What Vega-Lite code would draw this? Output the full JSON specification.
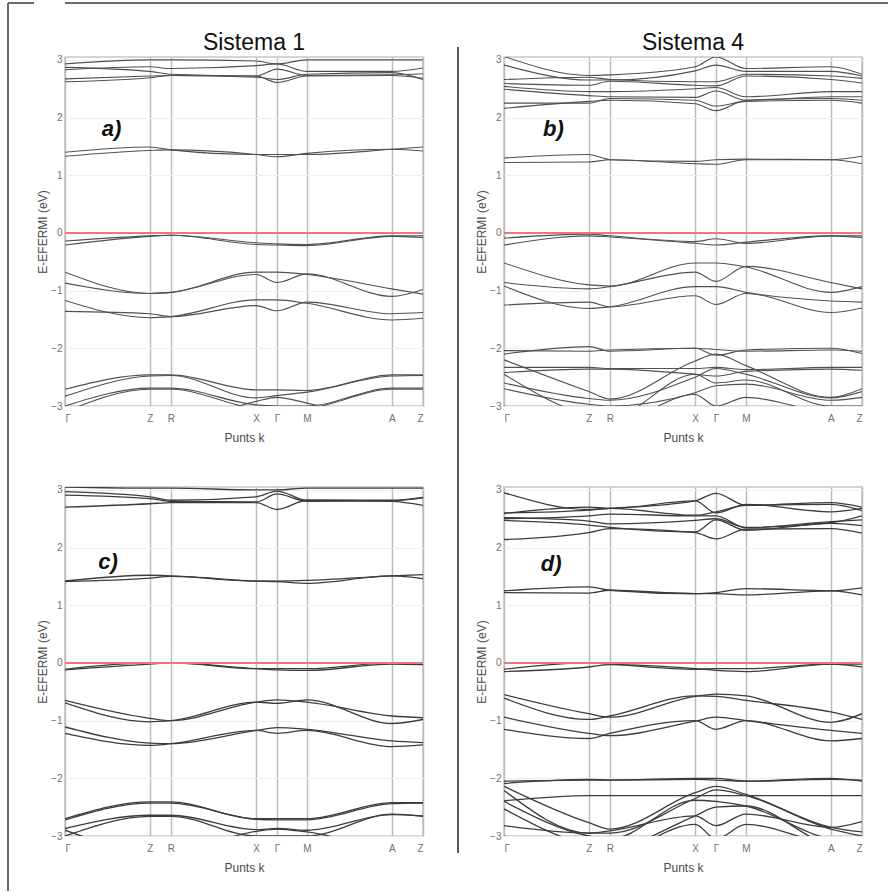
{
"$schema": "https://vega.github.io/schema/vega-lite/v6.json",
"padding": {"left": 7, "top": 2, "right": 0, "bottom": 0},
"background": "white",
"spacing": 0,
"config": {
  "font": "Liberation Sans",
  "view": {"stroke": "#c8c8c8", "strokeWidth": 1.5},
  "axis": {"labelFont": "Liberation Sans", "titleFont": "Liberation Sans", "labelColor": "#707070", "labelFontSize": 10, "titleColor": "#4a4a4a", "titleFontSize": 12, "titleFontWeight": "normal", "ticks": false, "domain": false}
},
"datasets": {
"one": [{}],
"fermi": [{"E": 0}],
"labels": [{"p":"a","t":"a)","k":10.3,"E":1.8},{"p":"b","t":"b)","k":10.9,"E":1.8},{"p":"c","t":"c)","k":9.3,"E":1.75},{"p":"d","t":"d)","k":10.3,"E":1.72}],
"a": [
{"b":1,"k":0,"E":2.93},{"b":1,"k":23.7,"E":3.0},{"b":1,"k":29.6,"E":3.0},{"b":1,"k":53.4,"E":2.98},{"b":1,"k":59.2,"E":2.93},{"b":1,"k":67.6,"E":3.0},{"b":1,"k":91.3,"E":3.0},{"b":1,"k":100,"E":3.0},
{"b":2,"k":0,"E":2.87},{"b":2,"k":23.7,"E":2.8},{"b":2,"k":29.6,"E":2.75},{"b":2,"k":53.4,"E":2.72},{"b":2,"k":59.2,"E":2.84},{"b":2,"k":67.6,"E":2.73},{"b":2,"k":91.3,"E":2.74},{"b":2,"k":100,"E":2.76},
{"b":3,"k":0,"E":2.83},{"b":3,"k":23.7,"E":2.88},{"b":3,"k":29.6,"E":2.85},{"b":3,"k":53.4,"E":2.9},{"b":3,"k":59.2,"E":2.93},{"b":3,"k":67.6,"E":2.8},{"b":3,"k":91.3,"E":2.8},{"b":3,"k":100,"E":2.86},
{"b":4,"k":0,"E":2.67},{"b":4,"k":23.7,"E":2.72},{"b":4,"k":29.6,"E":2.73},{"b":4,"k":53.4,"E":2.72},{"b":4,"k":59.2,"E":2.61},{"b":4,"k":67.6,"E":2.72},{"b":4,"k":91.3,"E":2.73},{"b":4,"k":100,"E":2.68},
{"b":5,"k":0,"E":2.62},{"b":5,"k":23.7,"E":2.69},{"b":5,"k":29.6,"E":2.73},{"b":5,"k":53.4,"E":2.7},{"b":5,"k":59.2,"E":2.66},{"b":5,"k":67.6,"E":2.75},{"b":5,"k":91.3,"E":2.78},{"b":5,"k":100,"E":2.66},
{"b":6,"k":0,"E":1.4},{"b":6,"k":23.7,"E":1.49},{"b":6,"k":29.6,"E":1.44},{"b":6,"k":53.4,"E":1.36},{"b":6,"k":59.2,"E":1.36},{"b":6,"k":67.6,"E":1.36},{"b":6,"k":91.3,"E":1.45},{"b":6,"k":100,"E":1.49},
{"b":7,"k":0,"E":1.33},{"b":7,"k":23.7,"E":1.43},{"b":7,"k":29.6,"E":1.44},{"b":7,"k":53.4,"E":1.36},{"b":7,"k":59.2,"E":1.32},{"b":7,"k":67.6,"E":1.38},{"b":7,"k":91.3,"E":1.45},{"b":7,"k":100,"E":1.42},
{"b":8,"k":0,"E":-0.14},{"b":8,"k":23.7,"E":-0.05},{"b":8,"k":29.6,"E":-0.04},{"b":8,"k":53.4,"E":-0.17},{"b":8,"k":59.2,"E":-0.19},{"b":8,"k":67.6,"E":-0.2},{"b":8,"k":91.3,"E":-0.05},{"b":8,"k":100,"E":-0.05},
{"b":9,"k":0,"E":-0.21},{"b":9,"k":23.7,"E":-0.06},{"b":9,"k":29.6,"E":-0.04},{"b":9,"k":53.4,"E":-0.2},{"b":9,"k":59.2,"E":-0.21},{"b":9,"k":67.6,"E":-0.22},{"b":9,"k":91.3,"E":-0.06},{"b":9,"k":100,"E":-0.08},
{"b":10,"k":0,"E":-0.68},{"b":10,"k":23.7,"E":-1.05},{"b":10,"k":29.6,"E":-1.03},{"b":10,"k":53.4,"E":-0.68},{"b":10,"k":59.2,"E":-0.68},{"b":10,"k":67.6,"E":-0.72},{"b":10,"k":91.3,"E":-0.97},{"b":10,"k":100,"E":-1.06},
{"b":11,"k":0,"E":-0.87},{"b":11,"k":23.7,"E":-1.05},{"b":11,"k":29.6,"E":-1.03},{"b":11,"k":53.4,"E":-0.72},{"b":11,"k":59.2,"E":-0.86},{"b":11,"k":67.6,"E":-0.71},{"b":11,"k":91.3,"E":-1.1},{"b":11,"k":100,"E":-0.98},
{"b":12,"k":0,"E":-1.17},{"b":12,"k":23.7,"E":-1.47},{"b":12,"k":29.6,"E":-1.45},{"b":12,"k":53.4,"E":-1.16},{"b":12,"k":59.2,"E":-1.16},{"b":12,"k":67.6,"E":-1.22},{"b":12,"k":91.3,"E":-1.51},{"b":12,"k":100,"E":-1.48},
{"b":13,"k":0,"E":-1.36},{"b":13,"k":23.7,"E":-1.4},{"b":13,"k":29.6,"E":-1.45},{"b":13,"k":53.4,"E":-1.26},{"b":13,"k":59.2,"E":-1.35},{"b":13,"k":67.6,"E":-1.2},{"b":13,"k":91.3,"E":-1.4},{"b":13,"k":100,"E":-1.38},
{"b":14,"k":0,"E":-2.71},{"b":14,"k":23.7,"E":-2.46},{"b":14,"k":29.6,"E":-2.46},{"b":14,"k":53.4,"E":-2.72},{"b":14,"k":59.2,"E":-2.72},{"b":14,"k":67.6,"E":-2.73},{"b":14,"k":91.3,"E":-2.46},{"b":14,"k":100,"E":-2.46},
{"b":15,"k":0,"E":-2.83},{"b":15,"k":23.7,"E":-2.48},{"b":15,"k":29.6,"E":-2.47},{"b":15,"k":53.4,"E":-2.86},{"b":15,"k":59.2,"E":-2.82},{"b":15,"k":67.6,"E":-2.76},{"b":15,"k":91.3,"E":-2.48},{"b":15,"k":100,"E":-2.47},
{"b":16,"k":0,"E":-3.0},{"b":16,"k":23.7,"E":-2.69},{"b":16,"k":29.6,"E":-2.69},{"b":16,"k":53.4,"E":-2.98},{"b":16,"k":59.2,"E":-3.0},{"b":16,"k":67.6,"E":-3.0},{"b":16,"k":91.3,"E":-2.69},{"b":16,"k":100,"E":-2.69},
{"b":17,"k":0,"E":-3.1},{"b":17,"k":23.7,"E":-2.71},{"b":17,"k":29.6,"E":-2.71},{"b":17,"k":53.4,"E":-3.05},{"b":17,"k":59.2,"E":-3.08},{"b":17,"k":67.6,"E":-3.05},{"b":17,"k":91.3,"E":-2.71},{"b":17,"k":100,"E":-2.71},
{"b":18,"k":0,"E":-3.02},{"b":18,"k":23.7,"E":-3.3},{"b":18,"k":29.6,"E":-3.3},{"b":18,"k":53.4,"E":-2.92},{"b":18,"k":59.2,"E":-2.85},{"b":18,"k":67.6,"E":-2.95},{"b":18,"k":91.3,"E":-3.3},{"b":18,"k":100,"E":-3.3}
],
"b": [
{"b":1,"k":0,"E":3.06},{"b":1,"k":23.7,"E":2.73},{"b":1,"k":29.6,"E":2.74},{"b":1,"k":53.4,"E":2.88},{"b":1,"k":59.2,"E":3.05},{"b":1,"k":67.6,"E":2.85},{"b":1,"k":91.3,"E":2.88},{"b":1,"k":100,"E":2.75},
{"b":2,"k":0,"E":2.91},{"b":2,"k":23.7,"E":2.65},{"b":2,"k":29.6,"E":2.65},{"b":2,"k":53.4,"E":2.81},{"b":2,"k":59.2,"E":2.91},{"b":2,"k":67.6,"E":2.8},{"b":2,"k":91.3,"E":2.8},{"b":2,"k":100,"E":2.72},
{"b":3,"k":0,"E":2.66},{"b":3,"k":23.7,"E":2.7},{"b":3,"k":29.6,"E":2.66},{"b":3,"k":53.4,"E":2.62},{"b":3,"k":59.2,"E":2.62},{"b":3,"k":67.6,"E":2.75},{"b":3,"k":91.3,"E":2.72},{"b":3,"k":100,"E":2.68},
{"b":4,"k":0,"E":2.59},{"b":4,"k":23.7,"E":2.56},{"b":4,"k":29.6,"E":2.63},{"b":4,"k":53.4,"E":2.56},{"b":4,"k":59.2,"E":2.55},{"b":4,"k":67.6,"E":2.72},{"b":4,"k":91.3,"E":2.66},{"b":4,"k":100,"E":2.6},
{"b":5,"k":0,"E":2.54},{"b":5,"k":23.7,"E":2.45},{"b":5,"k":29.6,"E":2.45},{"b":5,"k":53.4,"E":2.5},{"b":5,"k":59.2,"E":2.52},{"b":5,"k":67.6,"E":2.36},{"b":5,"k":91.3,"E":2.45},{"b":5,"k":100,"E":2.45},
{"b":6,"k":0,"E":2.49},{"b":6,"k":23.7,"E":2.38},{"b":6,"k":29.6,"E":2.36},{"b":6,"k":53.4,"E":2.35},{"b":6,"k":59.2,"E":2.46},{"b":6,"k":67.6,"E":2.3},{"b":6,"k":91.3,"E":2.36},{"b":6,"k":100,"E":2.36},
{"b":7,"k":0,"E":2.25},{"b":7,"k":23.7,"E":2.25},{"b":7,"k":29.6,"E":2.33},{"b":7,"k":53.4,"E":2.3},{"b":7,"k":59.2,"E":2.2},{"b":7,"k":67.6,"E":2.28},{"b":7,"k":91.3,"E":2.3},{"b":7,"k":100,"E":2.25},
{"b":8,"k":0,"E":2.16},{"b":8,"k":23.7,"E":2.28},{"b":8,"k":29.6,"E":2.3},{"b":8,"k":53.4,"E":2.24},{"b":8,"k":59.2,"E":2.12},{"b":8,"k":67.6,"E":2.3},{"b":8,"k":91.3,"E":2.33},{"b":8,"k":100,"E":2.3},
{"b":9,"k":0,"E":1.3},{"b":9,"k":23.7,"E":1.36},{"b":9,"k":29.6,"E":1.27},{"b":9,"k":53.4,"E":1.24},{"b":9,"k":59.2,"E":1.27},{"b":9,"k":67.6,"E":1.28},{"b":9,"k":91.3,"E":1.27},{"b":9,"k":100,"E":1.33},
{"b":10,"k":0,"E":1.22},{"b":10,"k":23.7,"E":1.23},{"b":10,"k":29.6,"E":1.27},{"b":10,"k":53.4,"E":1.2},{"b":10,"k":59.2,"E":1.19},{"b":10,"k":67.6,"E":1.27},{"b":10,"k":91.3,"E":1.27},{"b":10,"k":100,"E":1.2},
{"b":11,"k":0,"E":-0.09},{"b":11,"k":23.7,"E":-0.02},{"b":11,"k":29.6,"E":-0.05},{"b":11,"k":53.4,"E":-0.15},{"b":11,"k":59.2,"E":-0.1},{"b":11,"k":67.6,"E":-0.18},{"b":11,"k":91.3,"E":-0.05},{"b":11,"k":100,"E":-0.05},
{"b":12,"k":0,"E":-0.21},{"b":12,"k":23.7,"E":-0.05},{"b":12,"k":29.6,"E":-0.07},{"b":12,"k":53.4,"E":-0.18},{"b":12,"k":59.2,"E":-0.21},{"b":12,"k":67.6,"E":-0.16},{"b":12,"k":91.3,"E":-0.05},{"b":12,"k":100,"E":-0.08},
{"b":13,"k":0,"E":-0.52},{"b":13,"k":23.7,"E":-0.9},{"b":13,"k":29.6,"E":-0.92},{"b":13,"k":53.4,"E":-0.52},{"b":13,"k":59.2,"E":-0.52},{"b":13,"k":67.6,"E":-0.59},{"b":13,"k":91.3,"E":-1.03},{"b":13,"k":100,"E":-0.93},
{"b":14,"k":0,"E":-0.86},{"b":14,"k":23.7,"E":-0.97},{"b":14,"k":29.6,"E":-0.93},{"b":14,"k":53.4,"E":-0.68},{"b":14,"k":59.2,"E":-0.84},{"b":14,"k":67.6,"E":-0.58},{"b":14,"k":91.3,"E":-0.86},{"b":14,"k":100,"E":-0.97},
{"b":15,"k":0,"E":-0.92},{"b":15,"k":23.7,"E":-1.31},{"b":15,"k":29.6,"E":-1.28},{"b":15,"k":53.4,"E":-0.93},{"b":15,"k":59.2,"E":-0.93},{"b":15,"k":67.6,"E":-1.03},{"b":15,"k":91.3,"E":-1.18},{"b":15,"k":100,"E":-1.2},
{"b":16,"k":0,"E":-1.25},{"b":16,"k":23.7,"E":-1.2},{"b":16,"k":29.6,"E":-1.28},{"b":16,"k":53.4,"E":-1.09},{"b":16,"k":59.2,"E":-1.24},{"b":16,"k":67.6,"E":-1.05},{"b":16,"k":91.3,"E":-1.38},{"b":16,"k":100,"E":-1.3},
{"b":17,"k":0,"E":-2.04},{"b":17,"k":23.7,"E":-2.05},{"b":17,"k":29.6,"E":-2.03},{"b":17,"k":53.4,"E":-2.0},{"b":17,"k":59.2,"E":-2.02},{"b":17,"k":67.6,"E":-2.05},{"b":17,"k":91.3,"E":-2.03},{"b":17,"k":100,"E":-2.05},
{"b":18,"k":0,"E":-2.1},{"b":18,"k":23.7,"E":-1.97},{"b":18,"k":29.6,"E":-2.05},{"b":18,"k":53.4,"E":-2.0},{"b":18,"k":59.2,"E":-2.12},{"b":18,"k":67.6,"E":-2.03},{"b":18,"k":91.3,"E":-2.0},{"b":18,"k":100,"E":-2.09},
{"b":19,"k":0,"E":-2.33},{"b":19,"k":23.7,"E":-2.33},{"b":19,"k":29.6,"E":-2.35},{"b":19,"k":53.4,"E":-2.35},{"b":19,"k":59.2,"E":-2.33},{"b":19,"k":67.6,"E":-2.37},{"b":19,"k":91.3,"E":-2.33},{"b":19,"k":100,"E":-2.33},
{"b":20,"k":0,"E":-2.42},{"b":20,"k":23.7,"E":-2.36},{"b":20,"k":29.6,"E":-2.36},{"b":20,"k":53.4,"E":-2.45},{"b":20,"k":59.2,"E":-2.48},{"b":20,"k":67.6,"E":-2.4},{"b":20,"k":91.3,"E":-2.36},{"b":20,"k":100,"E":-2.38},
{"b":21,"k":0,"E":-2.2},{"b":21,"k":23.7,"E":-2.75},{"b":21,"k":29.6,"E":-2.88},{"b":21,"k":53.4,"E":-2.22},{"b":21,"k":59.2,"E":-2.1},{"b":21,"k":67.6,"E":-2.3},{"b":21,"k":91.3,"E":-2.85},{"b":21,"k":100,"E":-2.7},
{"b":22,"k":0,"E":-2.6},{"b":22,"k":23.7,"E":-2.87},{"b":22,"k":29.6,"E":-2.9},{"b":22,"k":53.4,"E":-2.5},{"b":22,"k":59.2,"E":-2.35},{"b":22,"k":67.6,"E":-2.45},{"b":22,"k":91.3,"E":-2.86},{"b":22,"k":100,"E":-2.75},
{"b":23,"k":0,"E":-2.7},{"b":23,"k":23.7,"E":-2.97},{"b":23,"k":29.6,"E":-3.0},{"b":23,"k":53.4,"E":-2.77},{"b":23,"k":59.2,"E":-2.65},{"b":23,"k":67.6,"E":-2.62},{"b":23,"k":91.3,"E":-2.9},{"b":23,"k":100,"E":-2.85},
{"b":24,"k":0,"E":-2.45},{"b":24,"k":23.7,"E":-3.15},{"b":24,"k":29.6,"E":-3.2},{"b":24,"k":53.4,"E":-2.45},{"b":24,"k":59.2,"E":-2.6},{"b":24,"k":67.6,"E":-2.55},{"b":24,"k":91.3,"E":-3.0},{"b":24,"k":100,"E":-3.0},
{"b":25,"k":0,"E":-3.0},{"b":25,"k":23.7,"E":-3.3},{"b":25,"k":29.6,"E":-3.3},{"b":25,"k":53.4,"E":-2.8},{"b":25,"k":59.2,"E":-3.0},{"b":25,"k":67.6,"E":-2.85},{"b":25,"k":91.3,"E":-3.1},{"b":25,"k":100,"E":-3.05}
],
"c": [
{"b":1,"k":0,"E":3.05},{"b":1,"k":23.7,"E":3.03},{"b":1,"k":29.6,"E":3.03},{"b":1,"k":53.4,"E":3.0},{"b":1,"k":59.2,"E":3.0},{"b":1,"k":67.6,"E":3.03},{"b":1,"k":91.3,"E":3.03},{"b":1,"k":100,"E":3.03},
{"b":2,"k":0,"E":2.97},{"b":2,"k":23.7,"E":2.88},{"b":2,"k":29.6,"E":2.82},{"b":2,"k":53.4,"E":2.88},{"b":2,"k":59.2,"E":2.98},{"b":2,"k":67.6,"E":2.82},{"b":2,"k":91.3,"E":2.82},{"b":2,"k":100,"E":2.87},
{"b":3,"k":0,"E":2.91},{"b":3,"k":23.7,"E":2.85},{"b":3,"k":29.6,"E":2.8},{"b":3,"k":53.4,"E":2.79},{"b":3,"k":59.2,"E":2.93},{"b":3,"k":67.6,"E":2.8},{"b":3,"k":91.3,"E":2.81},{"b":3,"k":100,"E":2.86},
{"b":4,"k":0,"E":2.7},{"b":4,"k":23.7,"E":2.76},{"b":4,"k":29.6,"E":2.78},{"b":4,"k":53.4,"E":2.78},{"b":4,"k":59.2,"E":2.66},{"b":4,"k":67.6,"E":2.82},{"b":4,"k":91.3,"E":2.8},{"b":4,"k":100,"E":2.73},
{"b":5,"k":0,"E":1.42},{"b":5,"k":23.7,"E":1.52},{"b":5,"k":29.6,"E":1.51},{"b":5,"k":53.4,"E":1.42},{"b":5,"k":59.2,"E":1.42},{"b":5,"k":67.6,"E":1.43},{"b":5,"k":91.3,"E":1.51},{"b":5,"k":100,"E":1.53},
{"b":6,"k":0,"E":1.41},{"b":6,"k":23.7,"E":1.47},{"b":6,"k":29.6,"E":1.5},{"b":6,"k":53.4,"E":1.42},{"b":6,"k":59.2,"E":1.41},{"b":6,"k":67.6,"E":1.38},{"b":6,"k":91.3,"E":1.51},{"b":6,"k":100,"E":1.46},
{"b":7,"k":0,"E":-0.11},{"b":7,"k":23.7,"E":0.0},{"b":7,"k":29.6,"E":0.0},{"b":7,"k":53.4,"E":-0.1},{"b":7,"k":59.2,"E":-0.1},{"b":7,"k":67.6,"E":-0.1},{"b":7,"k":91.3,"E":0.0},{"b":7,"k":100,"E":0.0},
{"b":8,"k":0,"E":-0.12},{"b":8,"k":23.7,"E":-0.02},{"b":8,"k":29.6,"E":0.0},{"b":8,"k":53.4,"E":-0.1},{"b":8,"k":59.2,"E":-0.12},{"b":8,"k":67.6,"E":-0.13},{"b":8,"k":91.3,"E":-0.02},{"b":8,"k":100,"E":-0.03},
{"b":9,"k":0,"E":-0.65},{"b":9,"k":23.7,"E":-0.96},{"b":9,"k":29.6,"E":-1.0},{"b":9,"k":53.4,"E":-0.68},{"b":9,"k":59.2,"E":-0.64},{"b":9,"k":67.6,"E":-0.68},{"b":9,"k":91.3,"E":-0.92},{"b":9,"k":100,"E":-0.95},
{"b":10,"k":0,"E":-0.69},{"b":10,"k":23.7,"E":-1.02},{"b":10,"k":29.6,"E":-1.0},{"b":10,"k":53.4,"E":-0.68},{"b":10,"k":59.2,"E":-0.7},{"b":10,"k":67.6,"E":-0.64},{"b":10,"k":91.3,"E":-1.05},{"b":10,"k":100,"E":-0.98},
{"b":11,"k":0,"E":-1.11},{"b":11,"k":23.7,"E":-1.39},{"b":11,"k":29.6,"E":-1.4},{"b":11,"k":53.4,"E":-1.17},{"b":11,"k":59.2,"E":-1.12},{"b":11,"k":67.6,"E":-1.15},{"b":11,"k":91.3,"E":-1.35},{"b":11,"k":100,"E":-1.38},
{"b":12,"k":0,"E":-1.22},{"b":12,"k":23.7,"E":-1.43},{"b":12,"k":29.6,"E":-1.4},{"b":12,"k":53.4,"E":-1.17},{"b":12,"k":59.2,"E":-1.22},{"b":12,"k":67.6,"E":-1.17},{"b":12,"k":91.3,"E":-1.45},{"b":12,"k":100,"E":-1.42},
{"b":13,"k":0,"E":-2.7},{"b":13,"k":23.7,"E":-2.41},{"b":13,"k":29.6,"E":-2.41},{"b":13,"k":53.4,"E":-2.7},{"b":13,"k":59.2,"E":-2.7},{"b":13,"k":67.6,"E":-2.7},{"b":13,"k":91.3,"E":-2.42},{"b":13,"k":100,"E":-2.42},
{"b":14,"k":0,"E":-2.72},{"b":14,"k":23.7,"E":-2.43},{"b":14,"k":29.6,"E":-2.43},{"b":14,"k":53.4,"E":-2.71},{"b":14,"k":59.2,"E":-2.72},{"b":14,"k":67.6,"E":-2.72},{"b":14,"k":91.3,"E":-2.44},{"b":14,"k":100,"E":-2.43},
{"b":15,"k":0,"E":-2.87},{"b":15,"k":23.7,"E":-2.64},{"b":15,"k":29.6,"E":-2.64},{"b":15,"k":53.4,"E":-2.89},{"b":15,"k":59.2,"E":-2.87},{"b":15,"k":67.6,"E":-2.9},{"b":15,"k":91.3,"E":-2.63},{"b":15,"k":100,"E":-2.65},
{"b":16,"k":0,"E":-3.0},{"b":16,"k":23.7,"E":-2.66},{"b":16,"k":29.6,"E":-2.66},{"b":16,"k":53.4,"E":-3.0},{"b":16,"k":59.2,"E":-3.0},{"b":16,"k":67.6,"E":-3.0},{"b":16,"k":91.3,"E":-2.62},{"b":16,"k":100,"E":-2.66},
{"b":17,"k":0,"E":-2.9},{"b":17,"k":23.7,"E":-3.25},{"b":17,"k":29.6,"E":-3.25},{"b":17,"k":53.4,"E":-2.92},{"b":17,"k":59.2,"E":-2.88},{"b":17,"k":67.6,"E":-2.93},{"b":17,"k":91.3,"E":-3.2},{"b":17,"k":100,"E":-3.2}
],
"d": [
{"b":1,"k":0,"E":2.95},{"b":1,"k":23.7,"E":2.66},{"b":1,"k":29.6,"E":2.68},{"b":1,"k":53.4,"E":2.81},{"b":1,"k":59.2,"E":2.94},{"b":1,"k":67.6,"E":2.73},{"b":1,"k":91.3,"E":2.78},{"b":1,"k":100,"E":2.7},
{"b":2,"k":0,"E":2.59},{"b":2,"k":23.7,"E":2.7},{"b":2,"k":29.6,"E":2.68},{"b":2,"k":53.4,"E":2.81},{"b":2,"k":59.2,"E":2.6},{"b":2,"k":67.6,"E":2.75},{"b":2,"k":91.3,"E":2.62},{"b":2,"k":100,"E":2.68},
{"b":3,"k":0,"E":2.6},{"b":3,"k":23.7,"E":2.65},{"b":3,"k":29.6,"E":2.68},{"b":3,"k":53.4,"E":2.56},{"b":3,"k":59.2,"E":2.62},{"b":3,"k":67.6,"E":2.73},{"b":3,"k":91.3,"E":2.75},{"b":3,"k":100,"E":2.64},
{"b":4,"k":0,"E":2.52},{"b":4,"k":23.7,"E":2.46},{"b":4,"k":29.6,"E":2.41},{"b":4,"k":53.4,"E":2.47},{"b":4,"k":59.2,"E":2.5},{"b":4,"k":67.6,"E":2.35},{"b":4,"k":91.3,"E":2.43},{"b":4,"k":100,"E":2.55},
{"b":5,"k":0,"E":2.5},{"b":5,"k":23.7,"E":2.55},{"b":5,"k":29.6,"E":2.58},{"b":5,"k":53.4,"E":2.55},{"b":5,"k":59.2,"E":2.55},{"b":5,"k":67.6,"E":2.34},{"b":5,"k":91.3,"E":2.45},{"b":5,"k":100,"E":2.48},
{"b":6,"k":0,"E":2.47},{"b":6,"k":23.7,"E":2.39},{"b":6,"k":29.6,"E":2.35},{"b":6,"k":53.4,"E":2.27},{"b":6,"k":59.2,"E":2.48},{"b":6,"k":67.6,"E":2.3},{"b":6,"k":91.3,"E":2.42},{"b":6,"k":100,"E":2.38},
{"b":7,"k":0,"E":2.14},{"b":7,"k":23.7,"E":2.26},{"b":7,"k":29.6,"E":2.33},{"b":7,"k":53.4,"E":2.26},{"b":7,"k":59.2,"E":2.15},{"b":7,"k":67.6,"E":2.32},{"b":7,"k":91.3,"E":2.33},{"b":7,"k":100,"E":2.25},
{"b":8,"k":0,"E":1.25},{"b":8,"k":23.7,"E":1.32},{"b":8,"k":29.6,"E":1.26},{"b":8,"k":53.4,"E":1.2},{"b":8,"k":59.2,"E":1.22},{"b":8,"k":67.6,"E":1.29},{"b":8,"k":91.3,"E":1.25},{"b":8,"k":100,"E":1.3},
{"b":9,"k":0,"E":1.22},{"b":9,"k":23.7,"E":1.21},{"b":9,"k":29.6,"E":1.26},{"b":9,"k":53.4,"E":1.2},{"b":9,"k":59.2,"E":1.2},{"b":9,"k":67.6,"E":1.18},{"b":9,"k":91.3,"E":1.25},{"b":9,"k":100,"E":1.18},
{"b":10,"k":0,"E":-0.11},{"b":10,"k":23.7,"E":0.0},{"b":10,"k":29.6,"E":-0.02},{"b":10,"k":53.4,"E":-0.11},{"b":10,"k":59.2,"E":-0.1},{"b":10,"k":67.6,"E":-0.1},{"b":10,"k":91.3,"E":-0.02},{"b":10,"k":100,"E":-0.02},
{"b":11,"k":0,"E":-0.15},{"b":11,"k":23.7,"E":-0.07},{"b":11,"k":29.6,"E":-0.03},{"b":11,"k":53.4,"E":-0.1},{"b":11,"k":59.2,"E":-0.13},{"b":11,"k":67.6,"E":-0.15},{"b":11,"k":91.3,"E":-0.02},{"b":11,"k":100,"E":-0.07},
{"b":12,"k":0,"E":-0.55},{"b":12,"k":23.7,"E":-0.88},{"b":12,"k":29.6,"E":-0.94},{"b":12,"k":53.4,"E":-0.58},{"b":12,"k":59.2,"E":-0.54},{"b":12,"k":67.6,"E":-0.57},{"b":12,"k":91.3,"E":-1.03},{"b":12,"k":100,"E":-0.88},
{"b":13,"k":0,"E":-0.61},{"b":13,"k":23.7,"E":-0.98},{"b":13,"k":29.6,"E":-0.92},{"b":13,"k":53.4,"E":-0.57},{"b":13,"k":59.2,"E":-0.58},{"b":13,"k":67.6,"E":-0.65},{"b":13,"k":91.3,"E":-0.85},{"b":13,"k":100,"E":-0.98},
{"b":14,"k":0,"E":-0.94},{"b":14,"k":23.7,"E":-1.22},{"b":14,"k":29.6,"E":-1.26},{"b":14,"k":53.4,"E":-1.01},{"b":14,"k":59.2,"E":-0.94},{"b":14,"k":67.6,"E":-1.0},{"b":14,"k":91.3,"E":-1.17},{"b":14,"k":100,"E":-1.22},
{"b":15,"k":0,"E":-1.15},{"b":15,"k":23.7,"E":-1.31},{"b":15,"k":29.6,"E":-1.22},{"b":15,"k":53.4,"E":-1.0},{"b":15,"k":59.2,"E":-1.15},{"b":15,"k":67.6,"E":-1.0},{"b":15,"k":91.3,"E":-1.35},{"b":15,"k":100,"E":-1.31},
{"b":16,"k":0,"E":-2.05},{"b":16,"k":23.7,"E":-2.03},{"b":16,"k":29.6,"E":-2.03},{"b":16,"k":53.4,"E":-2.02},{"b":16,"k":59.2,"E":-2.03},{"b":16,"k":67.6,"E":-2.05},{"b":16,"k":91.3,"E":-2.02},{"b":16,"k":100,"E":-2.03},
{"b":17,"k":0,"E":-2.09},{"b":17,"k":23.7,"E":-2.02},{"b":17,"k":29.6,"E":-2.03},{"b":17,"k":53.4,"E":-2.0},{"b":17,"k":59.2,"E":-2.0},{"b":17,"k":67.6,"E":-2.05},{"b":17,"k":91.3,"E":-2.0},{"b":17,"k":100,"E":-2.05},
{"b":18,"k":0,"E":-2.39},{"b":18,"k":23.7,"E":-2.3},{"b":18,"k":29.6,"E":-2.3},{"b":18,"k":53.4,"E":-2.3},{"b":18,"k":59.2,"E":-2.3},{"b":18,"k":67.6,"E":-2.3},{"b":18,"k":91.3,"E":-2.3},{"b":18,"k":100,"E":-2.3},
{"b":19,"k":0,"E":-2.14},{"b":19,"k":23.7,"E":-2.77},{"b":19,"k":29.6,"E":-2.88},{"b":19,"k":53.4,"E":-2.25},{"b":19,"k":59.2,"E":-2.14},{"b":19,"k":67.6,"E":-2.28},{"b":19,"k":91.3,"E":-2.85},{"b":19,"k":100,"E":-2.93},
{"b":20,"k":0,"E":-2.21},{"b":20,"k":23.7,"E":-2.95},{"b":20,"k":29.6,"E":-2.95},{"b":20,"k":53.4,"E":-2.35},{"b":20,"k":59.2,"E":-2.2},{"b":20,"k":67.6,"E":-2.3},{"b":20,"k":91.3,"E":-2.88},{"b":20,"k":100,"E":-3.0},
{"b":21,"k":0,"E":-2.4},{"b":21,"k":23.7,"E":-3.0},{"b":21,"k":29.6,"E":-3.05},{"b":21,"k":53.4,"E":-2.38},{"b":21,"k":59.2,"E":-2.4},{"b":21,"k":67.6,"E":-2.48},{"b":21,"k":91.3,"E":-3.05},{"b":21,"k":100,"E":-3.1},
{"b":22,"k":0,"E":-2.53},{"b":22,"k":23.7,"E":-3.15},{"b":22,"k":29.6,"E":-3.2},{"b":22,"k":53.4,"E":-2.65},{"b":22,"k":59.2,"E":-2.5},{"b":22,"k":67.6,"E":-2.48},{"b":22,"k":91.3,"E":-3.15},{"b":22,"k":100,"E":-3.2},
{"b":23,"k":0,"E":-2.82},{"b":23,"k":23.7,"E":-2.95},{"b":23,"k":29.6,"E":-2.91},{"b":23,"k":53.4,"E":-2.65},{"b":23,"k":59.2,"E":-2.82},{"b":23,"k":67.6,"E":-2.62},{"b":23,"k":91.3,"E":-2.85},{"b":23,"k":100,"E":-2.75},
{"b":24,"k":0,"E":-3.0},{"b":24,"k":23.7,"E":-3.3},{"b":24,"k":29.6,"E":-3.3},{"b":24,"k":53.4,"E":-2.8},{"b":24,"k":59.2,"E":-3.05},{"b":24,"k":67.6,"E":-2.8},{"b":24,"k":91.3,"E":-3.1},{"b":24,"k":100,"E":-3.0}
]
},
"hconcat": [
 {"width": 26, "height": 888, "view": {"stroke": null}, "data": {"name": "one"},
  "layer": [
   {"mark": {"type": "rule", "color": "#6a6a6a", "strokeWidth": 2}, "encoding": {"x": {"datum": 0, "type": "quantitative", "scale": {"domain": [0, 1]}, "axis": null}}},
   {"mark": {"type": "rule", "color": "#6a6a6a", "strokeWidth": 2}, "encoding": {"y": {"datum": 1, "type": "quantitative", "scale": {"domain": [0, 1]}, "axis": null}}}
  ]},
 {"spacing": 0, "vconcat": [
  {"width": 860, "height": 28, "view": {"stroke": null}, "data": {"name": "one"},
   "mark": {"type": "rule", "color": "#6a6a6a", "strokeWidth": 2},
   "encoding": {"y": {"datum": 1, "type": "quantitative", "scale": {"domain": [0, 1]}, "axis": null}}},
  {"spacing": 15, "hconcat": [
   {"spacing": 40, "vconcat": [
    {"width": 358, "height": 349,
     "title": {"text": "Sistema 1", "fontSize": 23, "fontWeight": "normal", "color": "#111111", "offset": 0, "dx": 10, "frame": "group", "anchor": "middle", "font": "Liberation Sans"},
     "layer": [
      {"data": {"name": "a"}, "mark": {"type": "line", "interpolate": "monotone", "clip": true, "color": "#505050", "strokeWidth": 1.1},
       "encoding": {
        "x": {"field": "k", "type": "quantitative", "scale": {"domain": [0, 100], "nice": false}, "axis": {"values": [0, 23.7, 29.6, 53.4, 59.2, 67.6, 91.3, 100], "labelExpr": "datum.value < 10 ? 'Γ' : datum.value < 26 ? 'Z' : datum.value < 40 ? 'R' : datum.value < 56 ? 'X' : datum.value < 63 ? 'Γ' : datum.value < 80 ? 'M' : datum.value < 95 ? 'A' : 'Z'", "grid": true, "gridColor": "#bcbcbc", "gridWidth": 1.5, "title": "Punts k", "labelPadding": 7, "titlePadding": 9}},
        "y": {"field": "E", "type": "quantitative", "scale": {"domain": [-3, 3.05], "nice": false}, "axis": {"values": [-3, -2, -1, 0, 1, 2, 3], "format": "d", "grid": true, "gridColor": "#eeeeee", "title": "E-EFERMI (eV)", "labelPadding": 3, "titlePadding": 1}},
        "detail": {"field": "b", "type": "nominal"}}},
      {"data": {"name": "fermi"}, "mark": {"type": "rule", "color": "#f07575", "strokeWidth": 2}, "encoding": {"y": {"field": "E", "type": "quantitative"}}},
      {"data": {"name": "labels"}, "transform": [{"filter": "datum.p == 'a'"}], "mark": {"type": "text", "fontSize": 22, "fontWeight": "bold", "fontStyle": "italic", "align": "left", "baseline": "middle", "color": "#111111"}, "encoding": {"x": {"field": "k", "type": "quantitative"}, "y": {"field": "E", "type": "quantitative"}, "text": {"field": "t"}}}
     ]},
    {"width": 358, "height": 349,
     "layer": [
      {"data": {"name": "c"}, "mark": {"type": "line", "interpolate": "monotone", "clip": true, "color": "#3c3c3c", "strokeWidth": 1.3},
       "encoding": {
        "x": {"field": "k", "type": "quantitative", "scale": {"domain": [0, 100], "nice": false}, "axis": {"values": [0, 23.7, 29.6, 53.4, 59.2, 67.6, 91.3, 100], "labelExpr": "datum.value < 10 ? 'Γ' : datum.value < 26 ? 'Z' : datum.value < 40 ? 'R' : datum.value < 56 ? 'X' : datum.value < 63 ? 'Γ' : datum.value < 80 ? 'M' : datum.value < 95 ? 'A' : 'Z'", "grid": true, "gridColor": "#bcbcbc", "gridWidth": 1.5, "title": "Punts k", "labelPadding": 7, "titlePadding": 9}},
        "y": {"field": "E", "type": "quantitative", "scale": {"domain": [-3, 3.05], "nice": false}, "axis": {"values": [-3, -2, -1, 0, 1, 2, 3], "format": "d", "grid": true, "gridColor": "#eeeeee", "title": "E-EFERMI (eV)", "labelPadding": 3, "titlePadding": 1}},
        "detail": {"field": "b", "type": "nominal"}}},
      {"data": {"name": "fermi"}, "mark": {"type": "rule", "color": "#f07575", "strokeWidth": 2}, "encoding": {"y": {"field": "E", "type": "quantitative"}}},
      {"data": {"name": "labels"}, "transform": [{"filter": "datum.p == 'c'"}], "mark": {"type": "text", "fontSize": 22, "fontWeight": "bold", "fontStyle": "italic", "align": "left", "baseline": "middle", "color": "#111111"}, "encoding": {"x": {"field": "k", "type": "quantitative"}, "y": {"field": "E", "type": "quantitative"}, "text": {"field": "t"}}}
     ]}
   ]},
   {"width": 18, "height": 796, "view": {"stroke": null}, "data": {"name": "one"},
    "mark": {"type": "rule", "color": "#222222", "strokeWidth": 1.5},
    "encoding": {
     "x": {"datum": 1, "type": "quantitative", "scale": {"domain": [0, 1]}, "axis": null},
     "y": {"datum": -0.0126, "type": "quantitative", "scale": {"domain": [0, 1], "reverse": true}, "axis": null},
     "y2": {"datum": 1}}},
   {"spacing": 40, "vconcat": [
    {"width": 358, "height": 349,
     "title": {"text": "Sistema 4", "fontSize": 23, "fontWeight": "normal", "color": "#111111", "offset": 0, "dx": 10, "frame": "group", "anchor": "middle", "font": "Liberation Sans"},
     "layer": [
      {"data": {"name": "b"}, "mark": {"type": "line", "interpolate": "monotone", "clip": true, "color": "#505050", "strokeWidth": 1.1},
       "encoding": {
        "x": {"field": "k", "type": "quantitative", "scale": {"domain": [0, 100], "nice": false}, "axis": {"values": [0, 23.7, 29.6, 53.4, 59.2, 67.6, 91.3, 100], "labelExpr": "datum.value < 10 ? 'Γ' : datum.value < 26 ? 'Z' : datum.value < 40 ? 'R' : datum.value < 56 ? 'X' : datum.value < 63 ? 'Γ' : datum.value < 80 ? 'M' : datum.value < 95 ? 'A' : 'Z'", "grid": true, "gridColor": "#bcbcbc", "gridWidth": 1.5, "title": "Punts k", "labelPadding": 7, "titlePadding": 9}},
        "y": {"field": "E", "type": "quantitative", "scale": {"domain": [-3, 3.05], "nice": false}, "axis": {"values": [-3, -2, -1, 0, 1, 2, 3], "format": "d", "grid": true, "gridColor": "#eeeeee", "title": "E-EFERMI (eV)", "labelPadding": 3, "titlePadding": 1}},
        "detail": {"field": "b", "type": "nominal"}}},
      {"data": {"name": "fermi"}, "mark": {"type": "rule", "color": "#f07575", "strokeWidth": 2}, "encoding": {"y": {"field": "E", "type": "quantitative"}}},
      {"data": {"name": "labels"}, "transform": [{"filter": "datum.p == 'b'"}], "mark": {"type": "text", "fontSize": 22, "fontWeight": "bold", "fontStyle": "italic", "align": "left", "baseline": "middle", "color": "#111111"}, "encoding": {"x": {"field": "k", "type": "quantitative"}, "y": {"field": "E", "type": "quantitative"}, "text": {"field": "t"}}}
     ]},
    {"width": 358, "height": 349,
     "layer": [
      {"data": {"name": "d"}, "mark": {"type": "line", "interpolate": "monotone", "clip": true, "color": "#3c3c3c", "strokeWidth": 1.3},
       "encoding": {
        "x": {"field": "k", "type": "quantitative", "scale": {"domain": [0, 100], "nice": false}, "axis": {"values": [0, 23.7, 29.6, 53.4, 59.2, 67.6, 91.3, 100], "labelExpr": "datum.value < 10 ? 'Γ' : datum.value < 26 ? 'Z' : datum.value < 40 ? 'R' : datum.value < 56 ? 'X' : datum.value < 63 ? 'Γ' : datum.value < 80 ? 'M' : datum.value < 95 ? 'A' : 'Z'", "grid": true, "gridColor": "#bcbcbc", "gridWidth": 1.5, "title": "Punts k", "labelPadding": 7, "titlePadding": 9}},
        "y": {"field": "E", "type": "quantitative", "scale": {"domain": [-3, 3.05], "nice": false}, "axis": {"values": [-3, -2, -1, 0, 1, 2, 3], "format": "d", "grid": true, "gridColor": "#eeeeee", "title": "E-EFERMI (eV)", "labelPadding": 3, "titlePadding": 1}},
        "detail": {"field": "b", "type": "nominal"}}},
      {"data": {"name": "fermi"}, "mark": {"type": "rule", "color": "#f07575", "strokeWidth": 2}, "encoding": {"y": {"field": "E", "type": "quantitative"}}},
      {"data": {"name": "labels"}, "transform": [{"filter": "datum.p == 'd'"}], "mark": {"type": "text", "fontSize": 22, "fontWeight": "bold", "fontStyle": "italic", "align": "left", "baseline": "middle", "color": "#111111"}, "encoding": {"x": {"field": "k", "type": "quantitative"}, "y": {"field": "E", "type": "quantitative"}, "text": {"field": "t"}}}
     ]}
   ]}
  ]}
 ]}
]
}
